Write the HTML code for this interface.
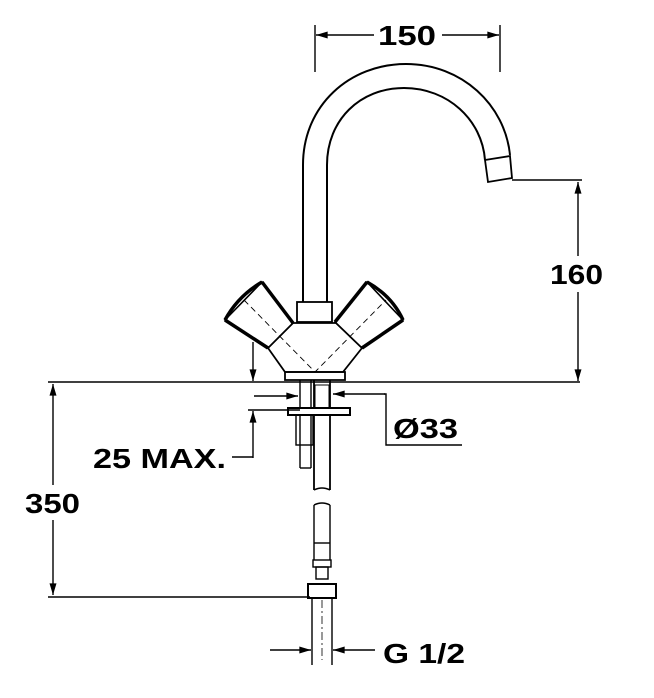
<!DOCTYPE html>
<html><head><style>
html,body{margin:0;padding:0;background:#fff;}
svg{display:block;}
text{font-family:"Liberation Sans",sans-serif;font-weight:bold;fill:#000;}
</style></head><body>
<svg width="654" height="698" viewBox="0 0 654 698" xmlns="http://www.w3.org/2000/svg">
<defs>
<marker id="a" viewBox="0 0 10 6" refX="10" refY="3" markerWidth="16" markerHeight="7" markerUnits="userSpaceOnUse" orient="auto-start-reverse"><path d="M0,0 L10,3 L0,6 z" fill="#000"/></marker>
</defs>
<g stroke="#000" fill="none" stroke-width="1.4">
<line x1="315" y1="25" x2="315" y2="72"/>
<line x1="500" y1="25" x2="500" y2="72"/>
<line x1="316" y1="35" x2="374" y2="35" marker-start="url(#a)"/>
<line x1="442" y1="35" x2="499" y2="35" marker-end="url(#a)"/>
<path d="M303,302 L303,165 C303,105 350,64 406,64 C462,64 505,105 510,155" stroke-width="2"/>
<path d="M327,302 L327,165 C327,120 360,88 404,88 C448,88 482,120 485,160" stroke-width="2"/>
<path d="M485,160 L510,156 L512,178 L488,182 Z" stroke-width="1.8"/>
<line x1="512" y1="180" x2="582" y2="180"/>
<line x1="578" y1="182" x2="578" y2="256" marker-start="url(#a)"/>
<line x1="578" y1="292" x2="578" y2="381" marker-end="url(#a)"/>
<rect x="297" y="302" width="35" height="20" stroke-width="1.8"/>
<path d="M293,323 L336,323 L362,348 L343,372 L285,372 L268,348 Z" stroke-width="1.8"/>
<path d="M285,372 L345,372 L345,380 L285,380 Z" stroke-width="1.8"/>
<path d="M225,320 L262,282 L293,323 L268,348 Z" fill="#fff" stroke-width="1.6"/>
<path d="M225,320 Q238,296 262,282" stroke-width="3.5"/>
<path d="M262,282 L293,323" stroke-width="3.5"/>
<path d="M225,320 L268,348" stroke-width="3.5"/>
<path d="M335,322 L367,282 L403,320 L362,348 Z" fill="#fff" stroke-width="1.6"/>
<path d="M367,282 Q392,296 403,320" stroke-width="3.5"/>
<path d="M335,322 L367,282" stroke-width="3.5"/>
<path d="M403,320 L362,348" stroke-width="3.5"/>
<path d="M244,300 L315,372 L386,300" stroke-dasharray="6,4" stroke-width="0.9"/>
<line x1="48" y1="382" x2="580" y2="382"/>
<line x1="48" y1="597" x2="310" y2="597"/>
<line x1="53" y1="384" x2="53" y2="485" marker-start="url(#a)"/>
<line x1="53" y1="520" x2="53" y2="595" marker-end="url(#a)"/>
<line x1="300" y1="380" x2="300" y2="468"/>
<line x1="311" y1="380" x2="311" y2="468"/>
<path d="M300,468 L311,468" />
<rect x="296" y="415" width="17" height="30" fill="none"/>
<path d="M314,380 L314,490 M330,380 L330,490" stroke-width="1.8"/>
<rect x="315" y="385" width="14" height="28" stroke-width="1"/>
<rect x="288" y="408" width="62" height="7" fill="#fff" stroke-width="2"/>
<path d="M314,490 Q322,486 330,490" />
<path d="M314,505 Q322,501 330,505" />
<path d="M314,505 L314,560 M330,505 L330,560"/>
<line x1="314" y1="543" x2="330" y2="543"/>
<rect x="313" y="560" width="18" height="7"/>
<rect x="316" y="567" width="12" height="12"/>
<rect x="308" y="584" width="28" height="14" stroke-width="2"/>
<line x1="312" y1="598" x2="312" y2="665"/>
<line x1="332" y1="598" x2="332" y2="665"/>
<line x1="322" y1="600" x2="322" y2="660" stroke-dasharray="8,3,2,3" stroke-width="0.8"/>
<line x1="270" y1="650" x2="311" y2="650" marker-end="url(#a)"/>
<line x1="375" y1="650" x2="333" y2="650" marker-end="url(#a)"/>
<line x1="253" y1="342" x2="253" y2="381" marker-end="url(#a)"/>
<line x1="253" y1="458" x2="253" y2="411" marker-end="url(#a)"/>
<line x1="232" y1="457" x2="253" y2="457"/>
<line x1="248" y1="410" x2="300" y2="410"/>
<line x1="254" y1="396" x2="298" y2="396" marker-end="url(#a)"/>
<line x1="385" y1="394" x2="333" y2="394" marker-end="url(#a)"/>
<polyline points="384,394 386,394 386,445 462,445"/>
</g>
<text x="378" y="45" font-size="28" textLength="58" lengthAdjust="spacingAndGlyphs">150</text>
<text x="550" y="284" font-size="28" textLength="53" lengthAdjust="spacingAndGlyphs">160</text>
<text x="25" y="513" font-size="28" textLength="55" lengthAdjust="spacingAndGlyphs">350</text>
<text x="93" y="468" font-size="28" textLength="133" lengthAdjust="spacingAndGlyphs">25 MAX.</text>
<text x="393" y="438" font-size="28" textLength="65" lengthAdjust="spacingAndGlyphs">Ø33</text>
<text x="383" y="663" font-size="28" textLength="82" lengthAdjust="spacingAndGlyphs">G 1/2</text>
</svg>
</body></html>
